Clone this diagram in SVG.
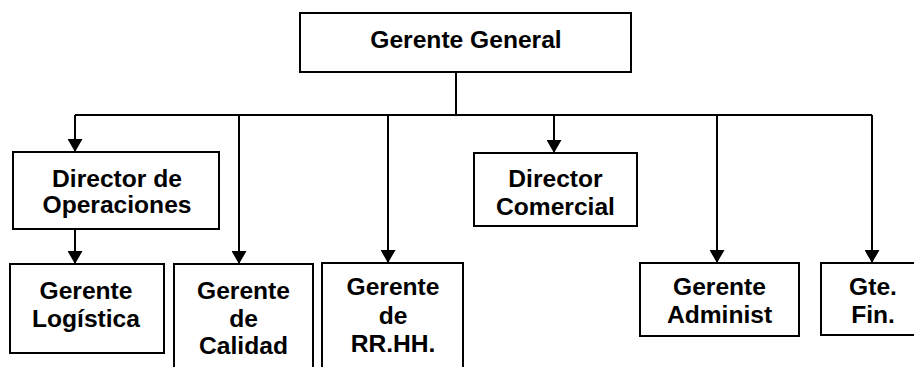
<svg xmlns="http://www.w3.org/2000/svg" width="914" height="367" viewBox="0 0 914 367">
<style>
.box{fill:#fff;stroke:#000;stroke-width:2}
.t{font-family:"Liberation Sans",Arial,sans-serif;font-weight:bold;font-size:24.6px;fill:#000;text-anchor:middle}
.c{fill:none;stroke:#000;stroke-width:2}
</style>
<defs>
<marker id="arr" markerUnits="userSpaceOnUse" markerWidth="13" markerHeight="15" viewBox="0 0 13 15" refX="13" refY="7.5" orient="auto">
<path d="M0,0 L13,7.5 L0,15 z" fill="#000"/>
</marker>
</defs>
<rect width="914" height="367" fill="#fff"/>
<g id="connectors">
<path class="c" d="M456,72 V115 M75,115 H872"/>
<path class="c" d="M75,115 V152" marker-end="url(#arr)"/>
<path class="c" d="M239,115 V264" marker-end="url(#arr)"/>
<path class="c" d="M388,115 V263" marker-end="url(#arr)"/>
<path class="c" d="M554,115 V153" marker-end="url(#arr)"/>
<path class="c" d="M717,115 V263" marker-end="url(#arr)"/>
<path class="c" d="M872,115 V263" marker-end="url(#arr)"/>
<path class="c" d="M75,229 V264" marker-end="url(#arr)"/>
</g>
<g id="gerente-general">
<rect class="box" x="300" y="13" width="331" height="59"/>
<text class="t" x="466" y="48">Gerente General</text>
</g>
<g id="director-operaciones">
<rect class="box" x="13" y="152" width="206" height="77"/>
<text class="t" x="117" y="187">Director de</text>
<text class="t" x="117" y="213">Operaciones</text>
</g>
<g id="gerente-logistica">
<rect class="box" x="10" y="264" width="154" height="89"/>
<text class="t" x="86" y="299">Gerente</text>
<text class="t" x="86" y="327">Logística</text>
</g>
<g id="gerente-calidad">
<rect class="box" x="174" y="264" width="139" height="120"/>
<text class="t" x="243.5" y="299">Gerente</text>
<text class="t" x="243.5" y="327">de</text>
<text class="t" x="243.5" y="354">Calidad</text>
</g>
<g id="gerente-rrhh">
<rect class="box" x="322" y="263" width="141" height="120"/>
<text class="t" x="393" y="295">Gerente</text>
<text class="t" x="393" y="324">de</text>
<text class="t" x="393" y="352">RR.HH.</text>
</g>
<g id="director-comercial">
<rect class="box" x="474" y="153" width="163" height="73"/>
<text class="t" x="555.5" y="187">Director</text>
<text class="t" x="555.5" y="215">Comercial</text>
</g>
<g id="gerente-administ">
<rect class="box" x="640" y="263" width="159" height="73"/>
<text class="t" x="719.5" y="295">Gerente</text>
<text class="t" x="719.5" y="323">Administ</text>
</g>
<g id="gte-fin">
<rect class="box" x="821" y="263" width="105" height="72"/>
<text class="t" x="873" y="295">Gte.</text>
<text class="t" x="873" y="323">Fin.</text>
</g>
</svg>
